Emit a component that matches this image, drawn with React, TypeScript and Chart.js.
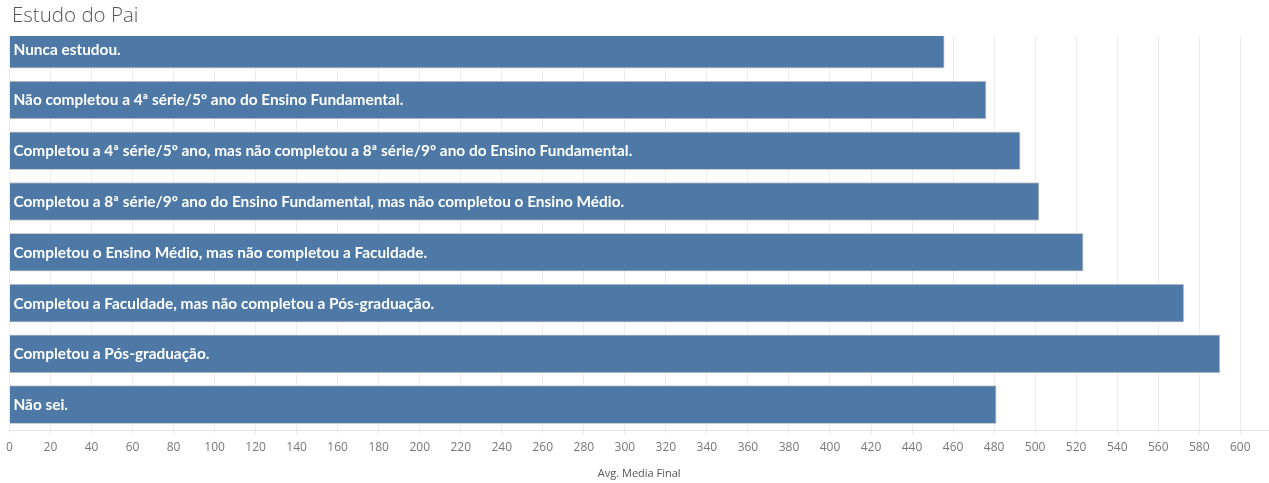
import { useEffect, useRef } from 'react';
import { Chart, registerables } from 'chart.js';

Chart.register(...registerables);

const chartTitle = 'Estudo do Pai';
const xAxisTitle = 'Avg. Media Final';

const categories = [
  'Nunca estudou.',
  'Não completou a 4ª série/5º ano do Ensino Fundamental.',
  'Completou a 4ª série/5º ano, mas não completou a 8ª série/9º ano do Ensino Fundamental.',
  'Completou a 8ª série/9º ano do Ensino Fundamental, mas não completou o Ensino Médio.',
  'Completou o Ensino Médio, mas não completou a Faculdade.',
  'Completou a Faculdade, mas não completou a Pós-graduação.',
  'Completou a Pós-graduação.',
  'Não sei.',
];

const avgMediaFinal = [455.7, 476.1, 492.7, 501.9, 523.4, 572.5, 590.1, 481.0];

const xTickValues = [
  0, 20, 40, 60, 80, 100, 120, 140, 160, 180, 200, 220, 240, 260, 280, 300,
  320, 340, 360, 380, 400, 420, 440, 460, 480, 500, 520, 540, 560, 580, 600,
];

const barLabelPlugin = {
  id: 'barLabels',
  afterDatasetsDraw(chart: any) {
    const { ctx, chartArea } = chart;
    const meta = chart.getDatasetMeta(0);
    ctx.save();
    ctx.beginPath();
    ctx.rect(chartArea.left, chartArea.top, chartArea.right - chartArea.left, chartArea.bottom - chartArea.top);
    ctx.clip();
    ctx.fillStyle = '#ffffff';
    ctx.font = 'bold 15.4px Lato';
    ctx.textAlign = 'left';
    ctx.textBaseline = 'middle';
    meta.data.forEach((bar: any, i: number) => {
      ctx.fillText(categories[i], chartArea.left + 4, bar.y + 0.5);
    });
    ctx.restore();
  },
};

const titlePlugin = {
  id: 'sheetTitle',
  afterDraw(chart: any) {
    const { ctx } = chart;
    ctx.save();
    ctx.fillStyle = '#555555';
    ctx.font = '300 20.5px "Open Sans"';
    ctx.textAlign = 'left';
    ctx.textBaseline = 'alphabetic';
    ctx.fillText(chartTitle, 12, 22);
    ctx.restore();
  },
};

export default function App() {
  const canvasRef = useRef<HTMLCanvasElement | null>(null);

  useEffect(() => {
    if (!canvasRef.current) return;
    Chart.defaults.font.family = '"Open Sans"';
    const chart = new Chart(canvasRef.current, {
      type: 'bar',
      data: {
        datasets: [
          {
            label: xAxisTitle,
            data: avgMediaFinal.map((v, i) => ({ x: v, y: i })),
            backgroundColor: '#4e79a7',
            borderColor: '#cdcdcd',
            borderWidth: 1,
            barThickness: 38,
          },
        ],
      },
      options: {
        indexAxis: 'y',
        animation: false,
        responsive: false,
        layout: { padding: { left: 8, top: 36, right: 0, bottom: 0 } },
        plugins: {
          legend: { display: false },
          tooltip: { enabled: false },
          title: { display: false },
        },
        scales: {
          x: {
            type: 'linear',
            position: 'bottom',
            min: 0,
            max: 614,
            afterBuildTicks: (scale: any) => {
              scale.ticks = xTickValues.map((v) => ({ value: v }));
            },
            afterFit: (scale: any) => {
              scale.height = 53;
            },
            grid: { color: '#ececec', tickColor: '#ececec', tickLength: 4 },
            border: { color: '#e4e4e4' },
            ticks: {
              color: '#777777',
              font: { size: 12, family: '"Open Sans"' },
              padding: 6,
              maxRotation: 0,
              autoSkip: false,
            },
            title: {
              display: true,
              text: xAxisTitle,
              color: '#555555',
              font: { size: 11, family: '"Open Sans"' },
              padding: { top: 0, bottom: 3 },
            },
          },
          y: {
            type: 'linear',
            reverse: true,
            offset: false,
            min: -0.26,
            max: 7.5,
            display: false,
            grid: { offset: false },
          },
        },
      },
      plugins: [barLabelPlugin, titlePlugin],
    });
    return () => chart.destroy();
  }, []);

  return (
    <div style={{ position: 'absolute', left: 0, top: 0, width: 1269, height: 483, background: '#ffffff' }}>
      <canvas ref={canvasRef} width={1269} height={483} />
    </div>
  );
}
